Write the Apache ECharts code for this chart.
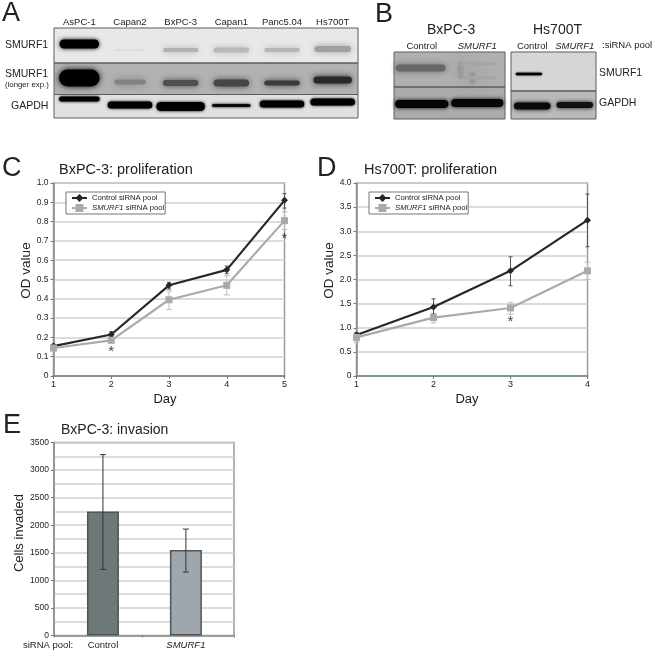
<!DOCTYPE html>
<html><head><meta charset="utf-8">
<style>html,body{margin:0;padding:0;background:#fff}#c{width:661px;height:653px}</style>
<script src="https://cdn.jsdelivr.net/npm/echarts@6/dist/echarts.min.js"></script>
</head><body><div id="c"></div>
<script>
// ---------- data ----------
const cellLines = ['AsPC-1','Capan2','BxPC-3','Capan1','Panc5.04','Hs700T'];
const sirnaPools = ['Control','SMURF1'];
// blot rows: [top, bottom, grey level]
const rowsA = [[0,35,232],[35,66.5,178],[66.5,90,224]];
const rowsBL = [[0,35,176],[35,67,172]];
const rowsBR = [[0,39,214],[39,67,186]];
// blot bands: [lane, migration, width in lanes, thickness, grey, lane offset, blur]
const bandsA = [
 [0,16,.78,9,0,0,2],[1,22,.60,2,222,0,3],[2,22,.70,4,178,0,3],[3,22,.70,5,184,0,3],[4,22,.70,4,182,0,3],[5,21,.72,6,160,0,3],
 [0,50,.80,17,0,0,3],[1,54,.62,5,130,0,4],[2,55,.70,6,78,0,3],[3,55,.70,7,70,0,3],[4,55,.70,5,58,0,3],[5,52,.76,7,40,0,3],
 [0,71,.80,5,0,0,1.5],[1,77,.88,7,0,0,1.5],[2,78.5,.96,9,0,0,1.5],[3,77.5,.76,3,10,0,1.5],[4,76,.88,7,0,0,1.5],[5,74,.88,7,0,0,1.5]
];
const bandsBL = [
 [0,16,.90,7,104,-.02,3],[1,18,.10,18,155,-.30,7],[1,26,.10,12,150,-.08,7],[1,12,.70,3,165,.02,7],[1,26,.60,3,165,.05,7],
 [0,52,.96,8,5,0,2],[1,51,.94,8,5,0,2]
];
const bandsBR = [
 [0,22,.62,2.5,0,-.08,1],
 [0,54,.86,7,10,0,2],[1,53,.86,6,18,0,2]
];
const days4 = ['1','2','3','4'], days5 = ['1','2','3','4','5'];
const controlC = [0.155,0.215,0.47,0.55,0.91];
const smurfC = [0.145,0.185,0.395,0.47,0.805];
const controlErrC = [[0,0.145,0.165],[1,0.205,0.23],[2,0.45,0.485],[3,0.53,0.57],[4,0.87,0.945]];
const smurfErrC = [[0,0.13,0.16],[1,0.17,0.2],[2,0.345,0.44],[3,0.42,0.52],[4,0.76,0.85]];
const starsC = [[1,0.125],[4,0.713]];
const controlD = [0.85,1.43,2.18,3.23];
const smurfD = [0.8,1.21,1.41,2.18];
const controlErrD = [[0,0.8,0.9],[1,1.28,1.6],[2,1.87,2.47],[3,2.68,3.77]];
const smurfErrD = [[0,0.7,0.9],[1,1.1,1.3],[2,1.28,1.52],[3,2.0,2.36]];
const starsD = [[2,1.13]];
const invasion = [2250,1550];
const invasionErr = [[0,1200,3280],[1,1150,1930]];
const invasionTicks = [-0.59,0.47,1.58];

// ---------- helpers ----------
const FONT = '"Liberation Sans",Arial,sans-serif';
const grey = g => `rgb(${g},${g},${g})`;
const rowsSeries = (rows, i, stroke) => ({
  type:'custom', xAxisIndex:i, yAxisIndex:i, data:rows, silent:true, z: stroke?5:1, encode:{y:[0,1]},
  renderItem(p, api){
    const a = api.coord([0,api.value(0)])[1], b = api.coord([0,api.value(1)])[1];
    return {type:'rect', shape:{x:p.coordSys.x,y:a,width:p.coordSys.width,height:b-a},
      style: stroke?{fill:null,stroke:'#5c5c5c',lineWidth:1}:{fill:grey(api.value(2))}};
  }
});
const bandsSeries = (bands, i) => ({
  type:'custom', xAxisIndex:i, yAxisIndex:i, data:bands, silent:true, z:3, encode:{x:0,y:1},
  renderItem(p, api){
    const c = api.coord([api.value(0),api.value(1)]), u = api.size([1,0])[0];
    const w = api.value(2)*u, h = Math.abs(api.size([0,api.value(3)])[1]);
    const col = grey(api.value(4));
    return {type:'rect', shape:{x:c[0]+api.value(5)*u-w/2, y:c[1]-h/2, width:w, height:h, r:h/2},
      style:{fill:col, shadowBlur:api.value(6)*2, shadowColor:col}};
  }
});
const errSeries = (data, i, color, cap, w, z) => ({
  type:'custom', xAxisIndex:i, yAxisIndex:i, data, silent:true, z:z||2, clip:false, encode:{x:0,y:[1,2]},
  renderItem(p, api){
    const a = api.coord([api.value(0),api.value(1)]), b = api.coord([api.value(0),api.value(2)]);
    const st = {stroke:color, lineWidth:w||1};
    return {type:'group', children:[
      {type:'line',shape:{x1:a[0],y1:a[1],x2:b[0],y2:b[1]},style:st},
      {type:'line',shape:{x1:a[0]-cap,y1:a[1],x2:a[0]+cap,y2:a[1]},style:st},
      {type:'line',shape:{x1:b[0]-cap,y1:b[1],x2:b[0]+cap,y2:b[1]},style:st}]};
  }
});
const lineSeries = (name, data, i, color, symbol, size) => ({
  name, type:'line', xAxisIndex:i, yAxisIndex:i, data, symbol, symbolSize:size, clip:false, z:4,
  lineStyle:{color,width:2.2}, itemStyle:{color}, showSymbol:true, animation:false
});
const starSeries = (data, i) => ({
  type:'scatter', xAxisIndex:i, yAxisIndex:i, data, symbolSize:1, itemStyle:{color:'transparent'}, z:6,
  label:{show:true, formatter:'*', position:'inside', fontFamily:FONT, fontSize:15, color:'#111'}
});
const legendFor = (left) => ({
  left, top:192, orient:'vertical', itemWidth:15, itemHeight:10, itemGap:2, align:'left',
  padding:[2,1,2,5], backgroundColor:'#fff', borderColor:'#777', borderWidth:1, z:8,
  data:['Control siRNA pool','SMURF1 siRNA pool'],
  textStyle:{fontFamily:FONT, fontSize:7.7, color:'#222', rich:{i:{fontStyle:'italic',fontFamily:FONT,fontSize:7.7,color:'#222'},n:{fontFamily:FONT,fontSize:7.7,color:'#222'}}},
  formatter:n => n.startsWith('SMURF1') ? '{i|SMURF1} {n|siRNA pool}' : '{n|'+n+'}'
});
const laneAxis = (i, data, labelSize, margin) => ({
  gridIndex:i, type:'category', data, position:'top', axisLine:{show:false}, axisTick:{show:false},
  axisLabel:{fontFamily:FONT, fontSize:labelSize, color:'#222', margin, interval:0,
    formatter:v => v==='SMURF1' ? '{i|SMURF1}' : v,
    rich:{i:{fontStyle:'italic',fontFamily:FONT,fontSize:labelSize,color:'#222'}}}
});
const hiddenY = (i, max) => ({gridIndex:i, type:'value', inverse:true, min:0, max, show:false, splitLine:{show:false}});
const dayAxis = (i, data, lineColor, shift) => ({
  gridIndex:i, type:'category', data, boundaryGap:false, name:'Day', nameLocation:'middle', nameGap:17,
  nameTextStyle:{fontFamily:FONT,fontSize:13,color:'#222',padding:[0,shift,0,0]},
  axisLine:{show:true,lineStyle:{color:lineColor,width:2}}, axisTick:{show:true,length:3,lineStyle:{color:'#777'}},
  axisLabel:{fontFamily:FONT,fontSize:9,color:'#222',margin:4,interval:0}, splitLine:{show:false}
});
const odAxis = (i, max, interval, gap) => ({
  gridIndex:i, type:'value', min:0, max, interval, name:'OD value', nameLocation:'middle', nameGap:gap,
  nameTextStyle:{fontFamily:FONT,fontSize:13.5,color:'#222',padding:[0,0,0,18]},
  axisLine:{show:true,lineStyle:{color:'#8c8c8c',width:1.5}}, axisTick:{show:true,length:3,lineStyle:{color:'#777'}},
  axisLabel:{fontFamily:FONT,fontSize:8.5,color:'#222',margin:5,formatter:v=>v===0?'0':v.toFixed(1)},
  splitLine:{show:true,lineStyle:{color:'#cfd2d2',width:1.5}}
});
const letter = (text,left,top) => ({text,left,top,padding:0,textStyle:{fontFamily:FONT,fontSize:27,fontWeight:'normal',color:'#222'}});
const heading = (text,left,top,size) => ({text,left,top,padding:0,textStyle:{fontFamily:FONT,fontSize:size,fontWeight:'normal',color:'#222'}});
const note = (text,x,y,size,extra) => ({type:'text',x,y,silent:true,z:20,style:Object.assign({text,font:`${size}px ${FONT}`,fill:'#222',textVerticalAlign:'middle'},extra||{})});

const chart = echarts.init(document.getElementById('c'),null,{renderer:'canvas'});
const plotGrid = (left,top,width,height) => ({left,top,width,height,containLabel:false,show:true,backgroundColor:'#fff',borderColor:'#9a9a9a',borderWidth:1.5});
chart.setOption({
  animation:false,
  backgroundColor:'#fff',
  title:[
    letter('A',2,0),letter('B',375,1),letter('C',2,155),letter('D',317,155),letter('E',3,412),
    heading('BxPC-3: proliferation',59,162,14.5),
    heading('Hs700T: proliferation',364,162,14.5),
    heading('BxPC-3: invasion',61,423,14),
    heading('BxPC-3',427,23,14),
    heading('Hs700T',533,23,14)
  ],
  grid:[
    {left:54,top:28,width:304,height:90},
    {left:394,top:52,width:111,height:67},
    {left:511,top:52,width:85,height:67},
    plotGrid(53.5,183,231,193),
    plotGrid(356.5,183,231,193),
    plotGrid(54,442.5,180,193)
  ],
  xAxis:[
    laneAxis(0,cellLines,9.5,1),
    laneAxis(1,sirnaPools,9.5,1),
    laneAxis(2,sirnaPools,9.5,1),
    dayAxis(3,days5,'#8c8c8c',8),
    dayAxis(4,days4,'#7f9494',10),
    {gridIndex:5,type:'value',min:invasionTicks[0],max:invasionTicks[2],splitLine:{show:false},
     axisLine:{show:true,onZero:false,lineStyle:{color:'#8c8c8c',width:1.5}},
     axisTick:{show:true,length:2,lineStyle:{color:'#777'},customValues:invasionTicks},
     axisLabel:{fontFamily:FONT,fontSize:9.5,color:'#222',margin:5,customValues:[0,1],
       formatter:v=>v===1?'{i|'+sirnaPools[1]+'}':sirnaPools[0],rich:{i:{fontStyle:'italic',fontFamily:FONT,fontSize:9.5,color:'#222'}}}}
  ],
  yAxis:[
    hiddenY(0,90),hiddenY(1,67),hiddenY(2,67),
    odAxis(3,1,0.1,13),
    odAxis(4,4,0.5,14),
    {gridIndex:5,type:'value',min:0,max:3500,interval:500,name:'Cells invaded',nameLocation:'middle',nameGap:24,
     nameTextStyle:{fontFamily:FONT,fontSize:13,color:'#222',padding:[0,0,0,12]},
     axisLine:{show:true,onZero:false,lineStyle:{color:'#8c8c8c',width:1.5}},axisTick:{show:true,length:3,lineStyle:{color:'#777'}},
     axisLabel:{fontFamily:FONT,fontSize:8.5,color:'#222',margin:5,formatter:v=>String(v)},
     splitLine:{show:true,lineStyle:{color:'#cfd2d2',width:1.5}},
     minorTick:{show:false,splitNumber:2},
     minorSplitLine:{show:true,lineStyle:{color:'#cfd2d2',width:1.5}}}
  ],
  legend:[legendFor(66),legendFor(369)],
  series:[
    rowsSeries(rowsA,0,false),bandsSeries(bandsA,0),rowsSeries(rowsA,0,true),
    rowsSeries(rowsBL,1,false),bandsSeries(bandsBL,1),rowsSeries(rowsBL,1,true),
    rowsSeries(rowsBR,2,false),bandsSeries(bandsBR,2),rowsSeries(rowsBR,2,true),

    errSeries(smurfErrC,3,'#bcbfc0',3,1),errSeries(controlErrC,3,'#555',2,1),
    lineSeries('Control siRNA pool',controlC,3,'#23282a','diamond',7),
    lineSeries('SMURF1 siRNA pool',smurfC,3,'#a7abae','rect',7),
    starSeries(starsC,3),

    errSeries(smurfErrD,4,'#bcbfc0',3,1),errSeries(controlErrD,4,'#555',2,1),
    lineSeries('Control siRNA pool',controlD,4,'#23282a','diamond',7),
    lineSeries('SMURF1 siRNA pool',smurfD,4,'#a7abae','rect',7),
    starSeries(starsD,4),

    {type:'bar',xAxisIndex:5,yAxisIndex:5,data:invasion.map((v,i)=>[i,v]),barWidth:32,z:3,
     itemStyle:{borderWidth:1.5,borderColor:'#4d5757',color:p=>['#6f7879','#9fa6ad'][p.dataIndex]}},
    errSeries(invasionErr,5,'#2f3536',3,1,5)
  ],
  graphic:[
    note('SMURF1',5,45,10.5),
    note('SMURF1',5,74,10.5),
    note('(longer exp.)',5,85,7.8),
    note('GAPDH',11,106,10.5),
    note('SMURF1',599,73,10.5),
    note('GAPDH',599,103,10.5),
    note(':siRNA pool',602,45,9.5),
    note('siRNA pool:',23,645,9.5)
  ]
});
</script></body></html>
